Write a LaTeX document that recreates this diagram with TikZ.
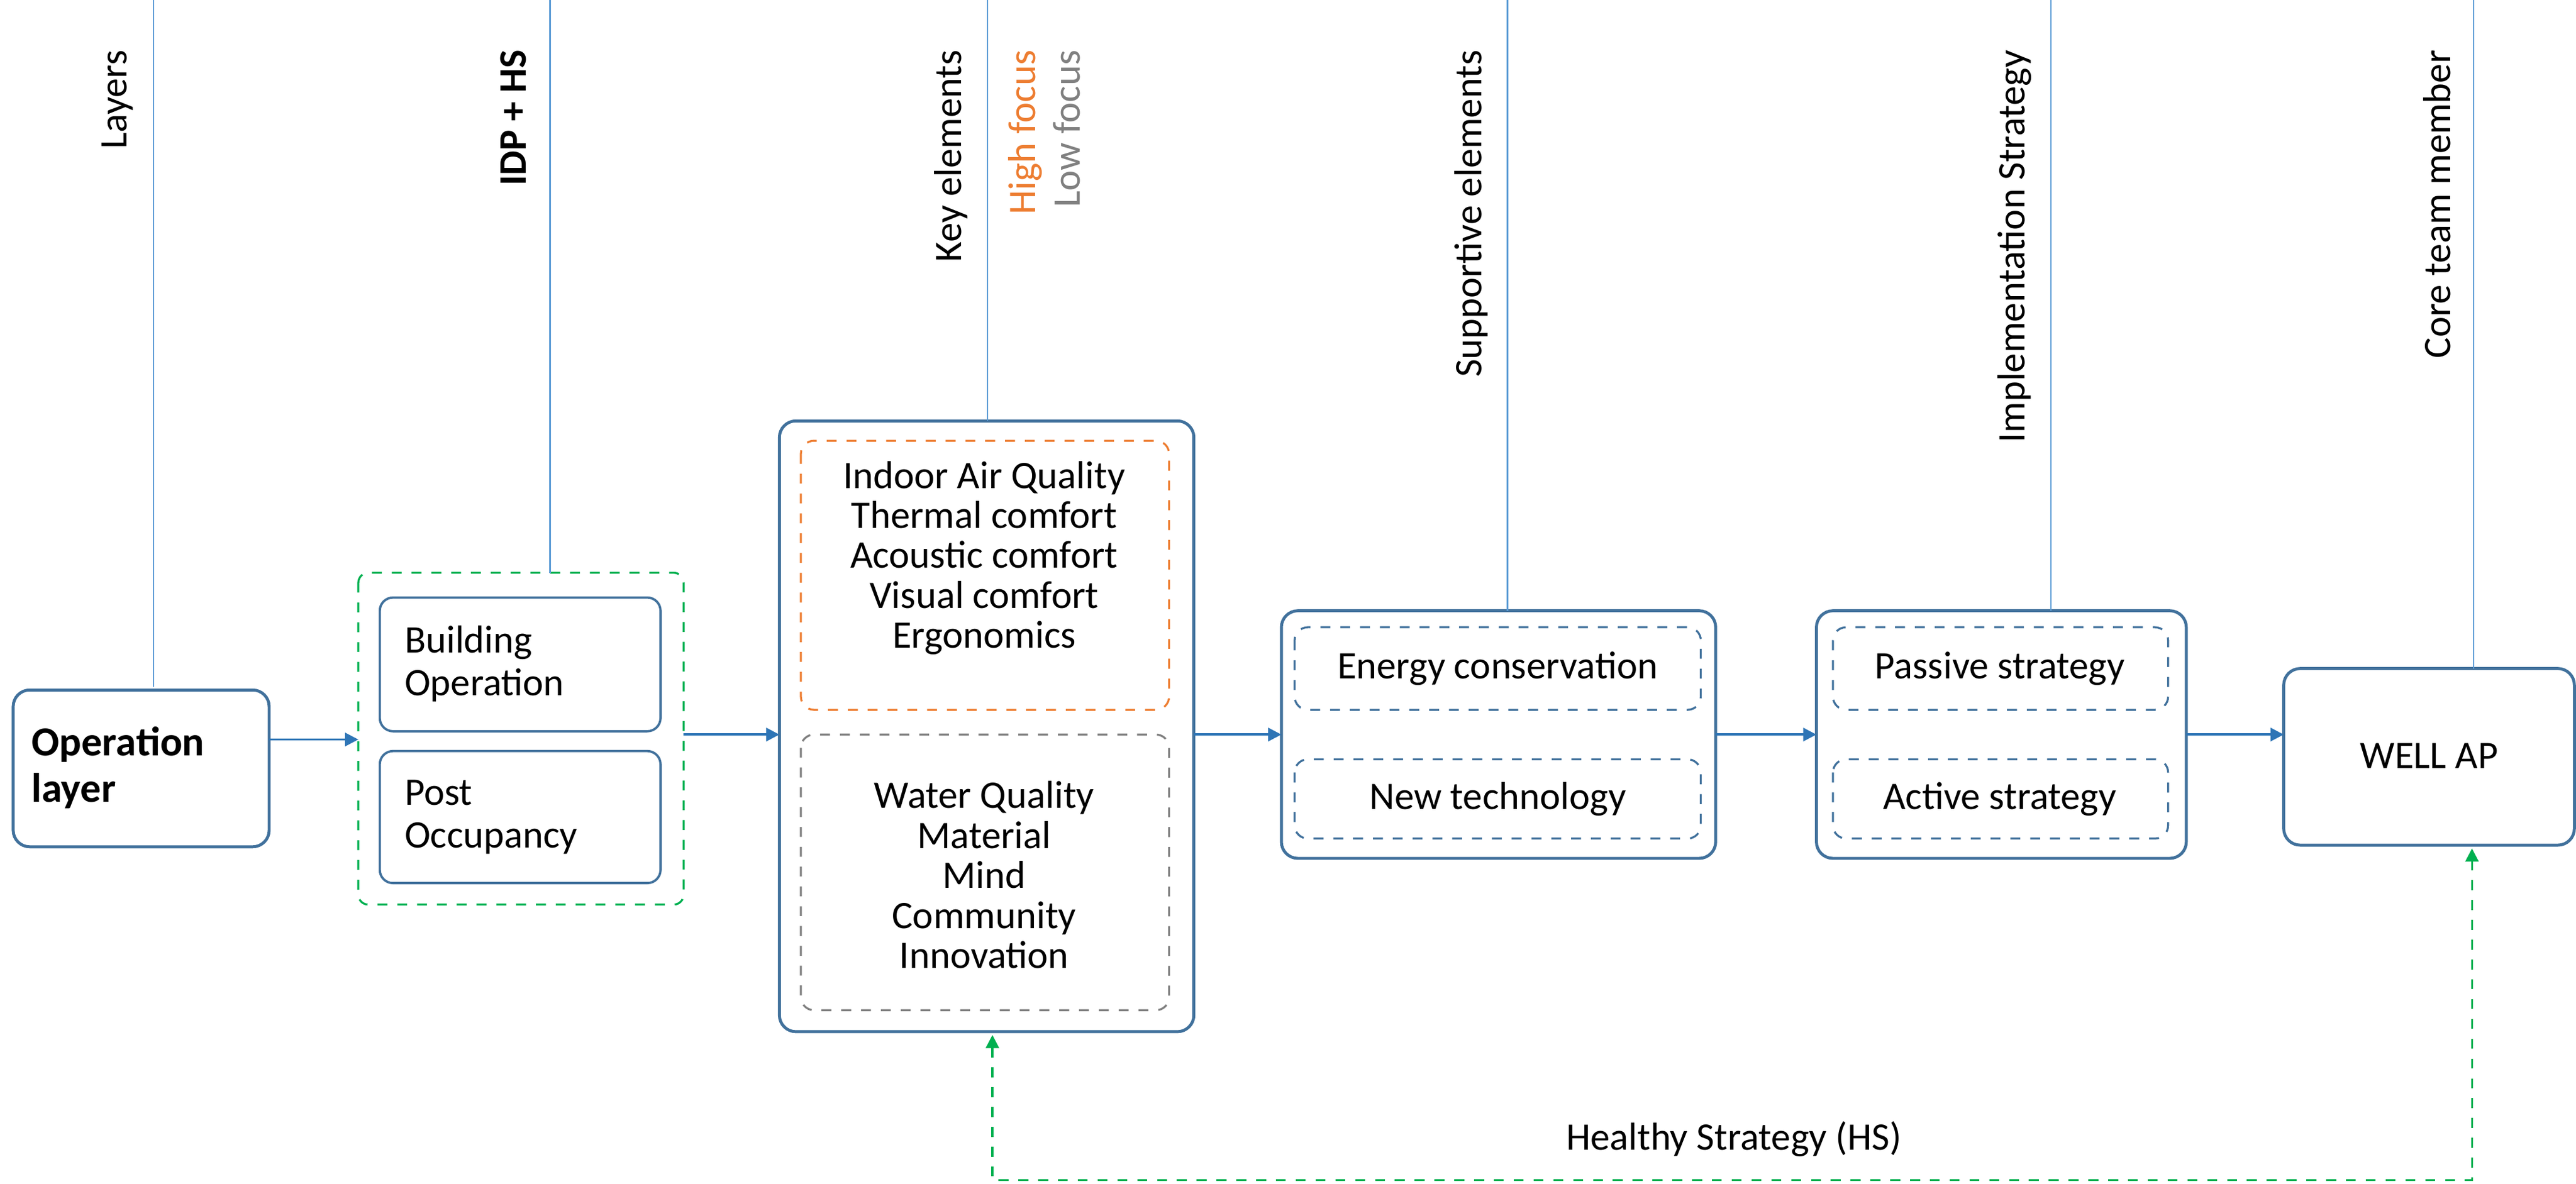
\documentclass[tikz,border=0pt]{standalone}
\usepackage{fontspec}
\setmainfont{Carlito}
\usetikzlibrary{arrows.meta}
\definecolor{boxblue}{HTML}{41719C}
\definecolor{lineblue}{HTML}{5B9BD5}
\definecolor{arrblue}{HTML}{2E75B6}
\definecolor{hiorange}{HTML}{ED7D31}
\definecolor{logray}{HTML}{808080}
\definecolor{hsgreen}{HTML}{00B050}
\begin{document}
\begin{tikzpicture}[x=0.5pt,y=-0.5pt,
  every node/.style={font=\fontsize{11.8}{13}\selectfont},
  box/.style={draw=boxblue,line width=0.9pt,rounded corners=5pt},
  inbox/.style={draw=boxblue,line width=0.7pt,rounded corners=4pt},
  dbox/.style={draw=boxblue,line width=0.6pt,dashed,rounded corners=4pt},
  gbox/.style={draw=hsgreen,line width=0.6pt,dashed,rounded corners=3pt},
  vline/.style={draw=lineblue,line width=0.5pt},
  vlab/.style={rotate=90,anchor=east,inner sep=0pt},
  flow/.style={draw=arrblue,line width=0.7pt,-{Triangle[length=4pt,width=4pt]}},
  hs/.style={draw=hsgreen,line width=0.6pt,dashed,{Triangle[length=4pt,width=4pt]}-{Triangle[length=4pt,width=4pt]}}]
\useasboundingbox (0,0) rectangle (1560,717);

% Operation layer
\draw[box] (8,418) rectangle (163,513);
\node[align=left,anchor=west,font=\fontsize{12.5}{14}\selectfont\bfseries] (op) at (12,465) {Operation\\layer};
\coordinate (opR) at (163,448);
\coordinate (opT) at (93,416);
\coordinate (opL) at (93,0);
\draw[vline] (opL) -- (opT);
\node[vlab] (lay) at (71,30) {Layers};

% IDP + HS
\draw[gbox] (217,347) rectangle (414,548);
\draw[inbox] (230,362) rectangle (400,443);
\draw[inbox] (230,455) rectangle (400,535);
\node[align=left,anchor=west] (bo) at (238,402) {Building\\Operation};
\node[align=left,anchor=west] (po) at (238,495) {Post\\Occupancy};
\coordinate (idpL) at (217,448);
\coordinate (idpR) at (414,445);
\coordinate (idpT) at (333,347);
\coordinate (idpU) at (333,0);
\draw[vline] (idpU) -- (idpT);
\node[vlab,font=\fontsize{11.8}{13}\selectfont\bfseries] (idp) at (311,30) {IDP + HS};
\draw[flow] (opR) -- (idpL);

% Key elements
\draw[box] (472,255) rectangle (723,625);
\draw[draw=hiorange,line width=0.6pt,dashed,rounded corners=4pt] (485,267) rectangle (708,430);
\draw[draw=logray,line width=0.6pt,dashed,rounded corners=4pt] (485,445) rectangle (708,612);
\node[align=center,font=\fontsize{11.8}{12.1}\selectfont] (hi) at (596,338) {Indoor Air Quality\\Thermal comfort\\Acoustic comfort\\Visual comfort\\Ergonomics};
\node[align=center,font=\fontsize{11.8}{12.1}\selectfont] (lo) at (596,530) {Water Quality\\Material\\Mind\\Community\\Innovation};
\coordinate (keyL) at (472,445);
\coordinate (keyR) at (723,445);
\coordinate (keyT) at (598,255);
\coordinate (keyU) at (598,0);
\coordinate (keyB) at (601,627);
\draw[vline] (keyU) -- (keyT);
\node[vlab] (kel) at (576,30) {Key elements};
\node[vlab,text=hiorange] (hf) at (621,30) {High focus};
\node[vlab,text=logray] (lf) at (646,30) {Low focus};
\draw[flow] (idpR) -- (keyL);

% Supportive elements
\draw[box] (776,370) rectangle (1039,520);
\draw[dbox] (784,380) rectangle (1030,430);
\draw[dbox] (784,460) rectangle (1030,508);
\node (ec) at (907,405) {Energy conservation};
\node (nt) at (907,484) {New technology};
\coordinate (supL) at (776,445);
\coordinate (supR) at (1039,445);
\coordinate (supT) at (913,370);
\coordinate (supU) at (913,0);
\draw[vline] (supU) -- (supT);
\node[vlab] (sel) at (891,30) {Supportive elements};
\draw[flow] (keyR) -- (supL);

% Implementation strategy
\draw[box] (1100,370) rectangle (1324,520);
\draw[dbox] (1110,380) rectangle (1313,430);
\draw[dbox] (1110,460) rectangle (1313,508);
\node (ps) at (1211,405) {Passive strategy};
\node (as) at (1211,484) {Active strategy};
\coordinate (impL) at (1100,445);
\coordinate (impR) at (1324,445);
\coordinate (impT) at (1242,370);
\coordinate (impU) at (1242,0);
\draw[vline] (impU) -- (impT);
\node[vlab] (isl) at (1220,30) {Implementation Strategy};
\draw[flow] (supR) -- (impL);

% WELL AP
\draw[box] (1383,405) rectangle (1559,512);
\node (well) at (1471,458) {WELL AP};
\coordinate (wellL) at (1383,445);
\coordinate (wellT) at (1498,405);
\coordinate (wellU) at (1498,0);
\coordinate (wellB) at (1497,514);
\draw[vline] (wellU) -- (wellT);
\node[vlab] (ctm) at (1476,30) {Core team member};
\draw[flow] (impR) -- (wellL);

% Healthy strategy loop
\draw[hs] (keyB) |- (1050,715) -| (wellB);
\node (hsl) at (1050,690) {Healthy Strategy (HS)};
\end{tikzpicture}
\end{document}
